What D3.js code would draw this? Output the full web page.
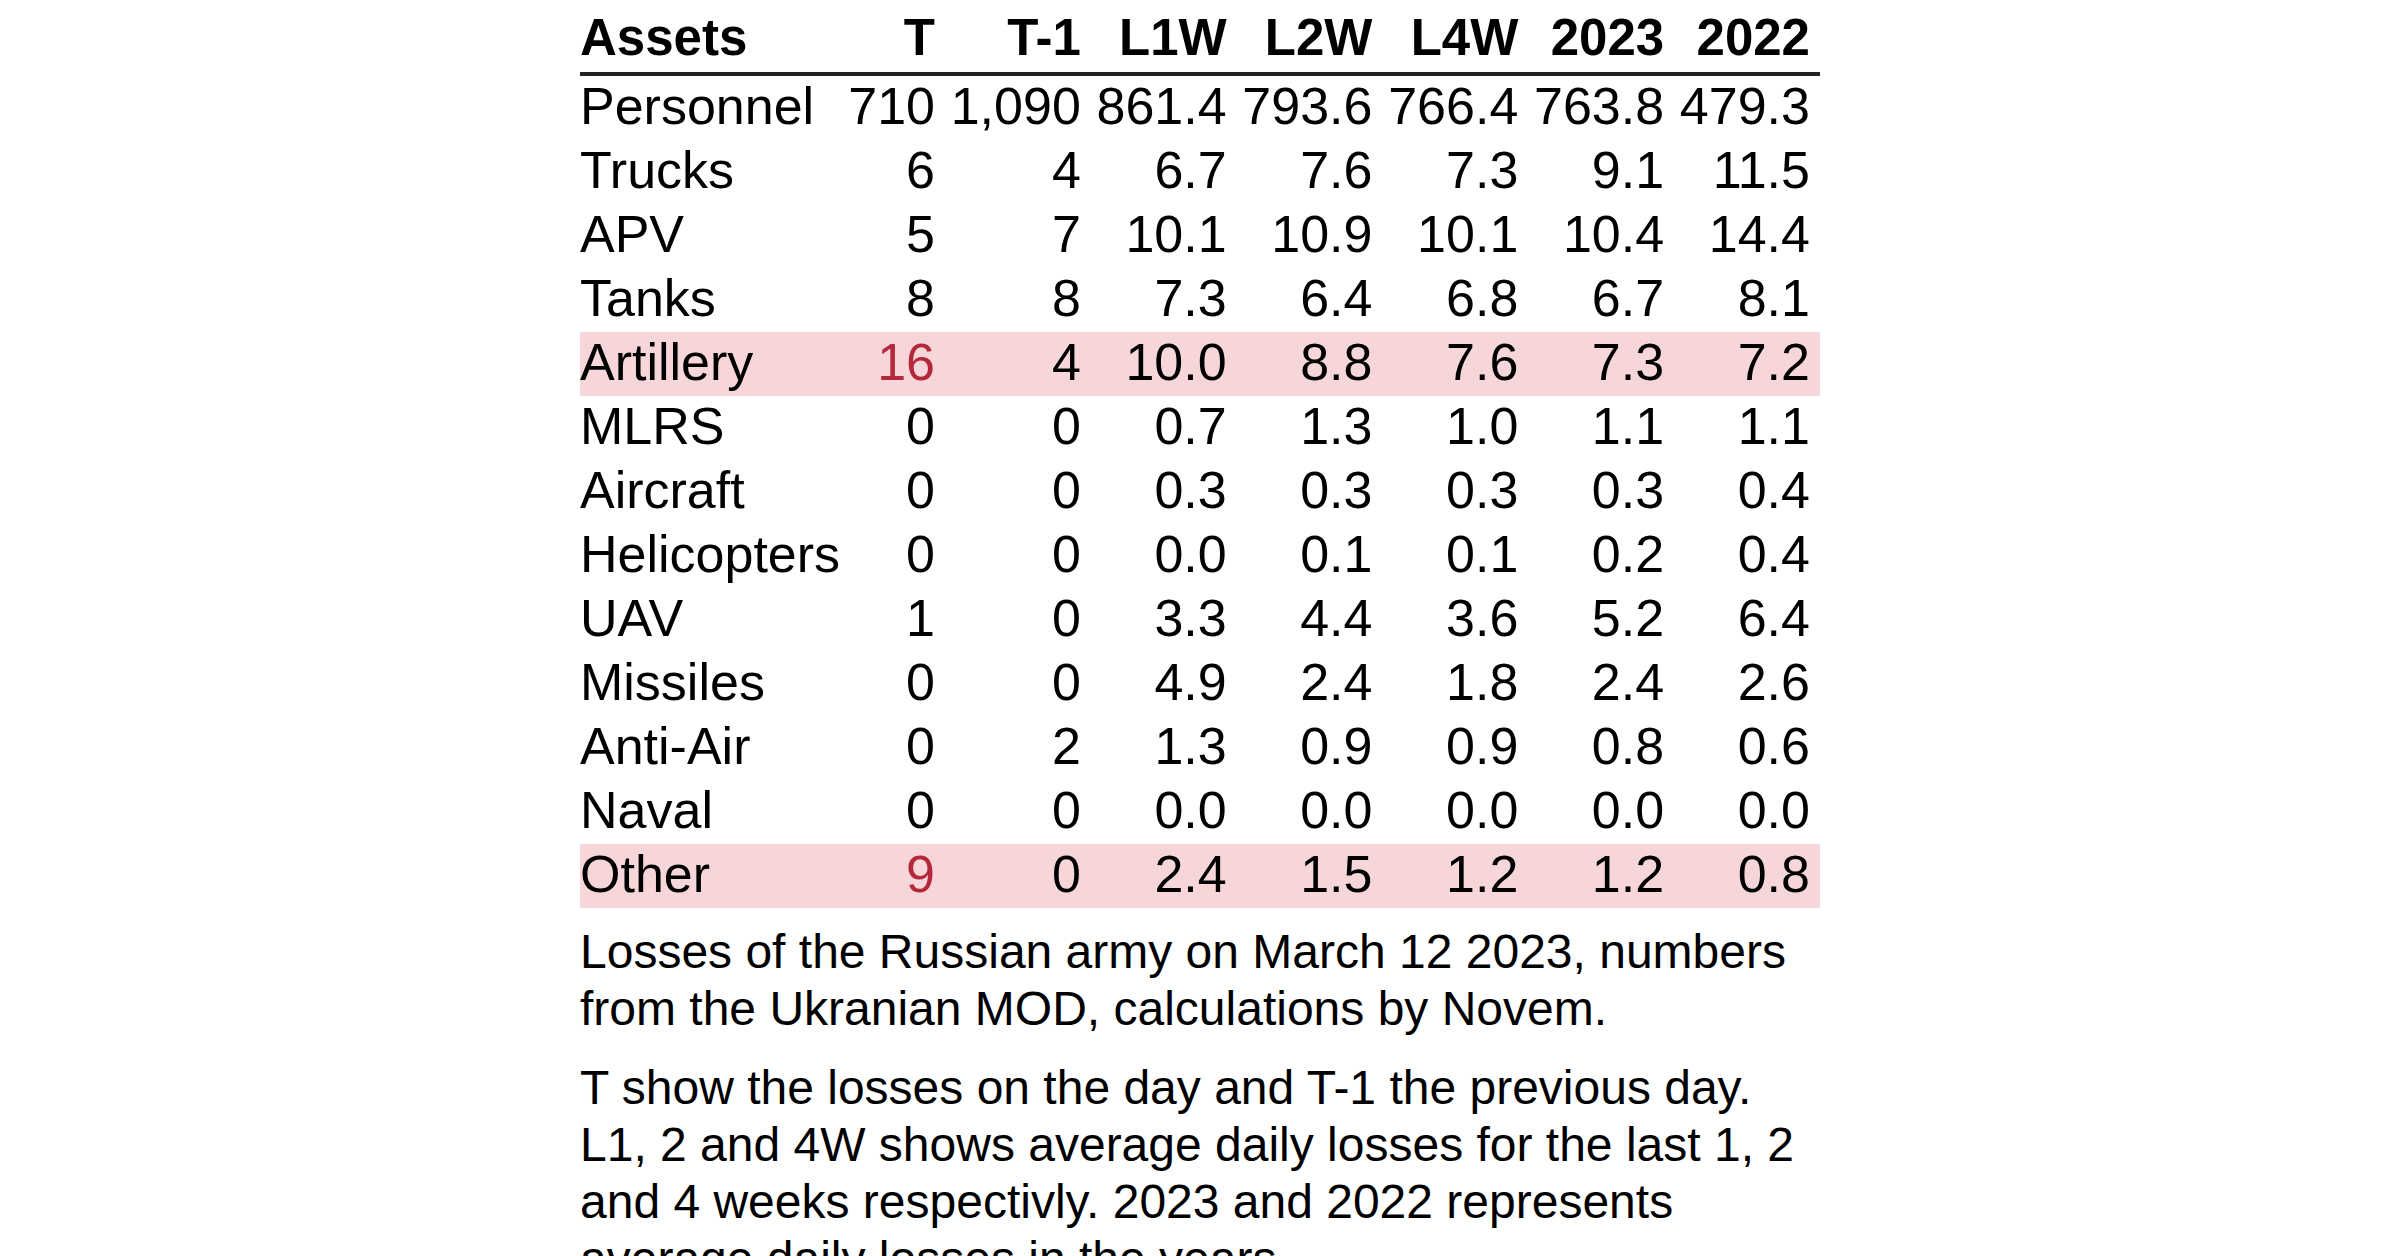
<!DOCTYPE html>
<meta charset="utf-8">
<script src="https://cdn.jsdelivr.net/npm/d3@7"></script>
<style>
  html, body { margin: 0; padding: 0; background: #fff; overflow: hidden; }
  svg text { font-family: "Liberation Sans", Arial, Helvetica, sans-serif; }
</style>
<body>
<script>

var width = 2400
var height = 1256

// table contents
var assets = ["Personnel", "Trucks", "APV", "Tanks", "Artillery", "MLRS", "Aircraft",
              "Helicopters", "UAV", "Missiles", "Anti-Air", "Naval", "Other"]
var columns = ["T", "T-1", "L1W", "L2W", "L4W", "2023", "2022"]

var lossT   = [710, 6, 5, 8, 16, 0, 0, 0, 1, 0, 0, 0, 9]
var lossT1  = [1090, 4, 7, 8, 4, 0, 0, 0, 0, 0, 2, 0, 0]
var avgL1W  = [861.4, 6.7, 10.1, 7.3, 10.0, 0.7, 0.3, 0.0, 3.3, 4.9, 1.3, 0.0, 2.4]
var avgL2W  = [793.6, 7.6, 10.9, 6.4, 8.8, 1.3, 0.3, 0.1, 4.4, 2.4, 0.9, 0.0, 1.5]
var avgL4W  = [766.4, 7.3, 10.1, 6.8, 7.6, 1.0, 0.3, 0.1, 3.6, 1.8, 0.9, 0.0, 1.2]
var avg2023 = [763.8, 9.1, 10.4, 6.7, 7.3, 1.1, 0.3, 0.2, 5.2, 2.4, 0.8, 0.0, 1.2]
var avg2022 = [479.3, 11.5, 14.4, 8.1, 7.2, 1.1, 0.4, 0.4, 6.4, 2.6, 0.6, 0.0, 0.8]

var highlighted = ["Artillery", "Other"]

var caption = [
  ["Losses of the Russian army on March 12 2023, numbers",
   "from the Ukranian MOD, calculations by Novem."],
  ["T show the losses on the day and T-1 the previous day.",
   "L1, 2 and 4W shows average daily losses for the last 1, 2",
   "and 4 weeks respectivly. 2023 and 2022 represents",
   "average daily losses in the years."]
]

var series = [lossT, lossT1, avgL1W, avgL2W, avgL4W, avg2023, avg2022]
var fmtInt = d3.format(",")
var fmtDec = d3.format(",.1f")

var tableLeft = 580, tableRight = 1820
var tableTop = 76, rowH = 64

var x = d3.scaleBand().domain(columns).range([799.2, tableRight])
var y = d3.scaleBand().domain(assets).range([tableTop, tableTop + rowH * assets.length])

var svg = d3.select("body").append("svg")
            .attr("width", width)
            .attr("height", height)
            .style("display", "block")

// highlighted rows
svg.append("g").selectAll("rect")
   .data(highlighted)
   .enter().append("rect")
   .attr("x", tableLeft)
   .attr("y", function(d) { return y(d) })
   .attr("width", tableRight - tableLeft)
   .attr("height", y.bandwidth())
   .attr("fill", "#f7d6da")

// header
var header = svg.append("g").style("font-size", "51px").style("font-weight", "bold").attr("fill", "#000")
header.append("text").attr("x", tableLeft).attr("y", 55).text("Assets")
header.selectAll("text.col")
      .data(columns)
      .enter().append("text")
      .attr("class", "col")
      .attr("x", function(d) { return x(d) + x.bandwidth() - 10 })
      .attr("y", 55)
      .attr("text-anchor", "end")
      .text(function(d) { return d })

svg.append("line")
   .attr("x1", tableLeft).attr("x2", tableRight)
   .attr("y1", 74).attr("y2", 74)
   .attr("stroke", "#222")
   .attr("stroke-width", 4)

// body rows
var rows = svg.append("g").style("font-size", "52px")
  .selectAll("g")
  .data(assets)
  .enter().append("g")
  .attr("transform", function(d) { return "translate(0," + (y(d) + 48) + ")" })

rows.append("text")
    .attr("x", tableLeft)
    .attr("fill", "#000")
    .text(function(d) { return d })

rows.selectAll("text.val")
    .data(function(d, i) {
      return columns.map(function(c, j) { return { asset: d, col: c, j: j, v: series[j][i] } })
    })
    .enter().append("text")
    .attr("class", "val")
    .attr("x", function(d) { return x(d.col) + x.bandwidth() - 10 })
    .attr("text-anchor", "end")
    .attr("fill", function(d) {
      return (d.j == 0 && highlighted.indexOf(d.asset) >= 0) ? "#b3283b" : "#000"
    })
    .text(function(d) { return d.j < 2 ? fmtInt(d.v) : fmtDec(d.v) })

// caption below the table
var capY = 968, lineH = 57, paraGap = 22
var cap = svg.append("g").style("font-size", "48px").attr("fill", "#000")
caption.forEach(function(para) {
  para.forEach(function(line) {
    cap.append("text").attr("x", tableLeft).attr("y", capY).text(line)
    capY += lineH
  })
  capY += paraGap
})

</script>
</body>
